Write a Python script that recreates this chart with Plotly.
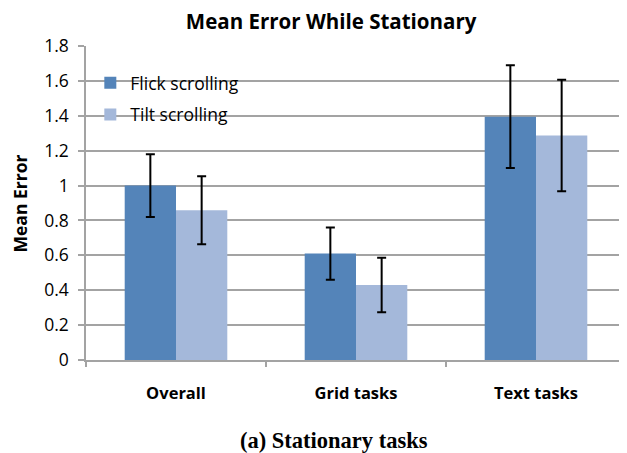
import plotly.graph_objects as go

categories = ["Overall", "Grid tasks", "Text tasks"]
flick = [1.00, 0.61, 1.395]
flick_err = [0.18, 0.15, 0.295]
tilt = [0.858, 0.43, 1.287]
tilt_err = [0.195, 0.156, 0.32]
yticks = [0, 0.2, 0.4, 0.6, 0.8, 1, 1.2, 1.4, 1.6, 1.8]
ytick_labels = ["0", "0.2", "0.4", "0.6", "0.8", "1", "1.2", "1.4", "1.6", "1.8"]

FONT = "Open Sans"
GRID = "#A3A3A3"

fig = go.Figure()
fig.add_trace(go.Bar(
    name="Flick scrolling", x=categories, y=flick,
    marker=dict(color="#5484B9", line=dict(width=0)),
    error_y=dict(type="data", array=flick_err, color="black", thickness=2, width=4.5),
    legendgroup="a",
))
fig.add_trace(go.Bar(
    name="Tilt scrolling", x=categories, y=tilt,
    marker=dict(color="#A4B8DA", line=dict(width=0)),
    error_y=dict(type="data", array=tilt_err, color="black", thickness=2, width=4.5),
    legendgroup="b",
))

# page body has an 8px margin, so the figure is sized/offset to compensate
fig.update_layout(
    width=619, height=445,
    margin=dict(l=78, r=1, t=38, b=93, autoexpand=False),
    paper_bgcolor="white", plot_bgcolor="white",
    barmode="group", bargap=0.43, bargroupgap=0,
    font=dict(family=FONT, color="black"),
    title=dict(text="<b>Mean Error While Stationary</b>", x=0.522, xanchor="center",
               y=0.968, yanchor="middle", font=dict(size=20.5, family=FONT)),
    showlegend=True,
    legend=dict(x=0.008, y=0.94, xanchor="left", yanchor="top",
                bgcolor="rgba(0,0,0,0)", font=dict(size=17.5, family=FONT),
                tracegroupgap=6, traceorder="grouped", itemwidth=30),
    xaxis=dict(
        categoryorder="array", categoryarray=categories,
        tickvals=categories, ticktext=["<b>" + c + "</b>" for c in categories],
        showline=True, linecolor=GRID, linewidth=1.5,
        ticks="outside", tickson="boundaries", ticklen=5, tickcolor=GRID, tickwidth=1.5,
        tickfont=dict(size=16.5, family=FONT), ticklabelstandoff=17,
        showgrid=False, automargin=False,
    ),
    yaxis=dict(
        range=[0, 1.8], tickvals=yticks, ticktext=ytick_labels,
        showline=True, linecolor=GRID, linewidth=1.5,
        ticks="outside", ticklen=6, tickcolor=GRID, tickwidth=1.5,
        showgrid=True, gridcolor=GRID, gridwidth=1.5,
        tickfont=dict(size=17.5, family=FONT), ticklabelstandoff=6,
        zeroline=False, automargin=False,
    ),
)

fig.add_annotation(text="<b>Mean Error</b>", xref="paper", yref="paper",
                   x=-0.1213, y=0.5, xanchor="center", yanchor="middle",
                   textangle=-90, showarrow=False, font=dict(size=17.5, family=FONT))
fig.add_annotation(text="<b>(a) Stationary tasks</b>", xref="paper", yref="paper",
                   x=0.459, y=-0.256, xanchor="center", yanchor="middle",
                   showarrow=False, font=dict(size=22.5, family="Liberation Serif"))

fig.write_html("out.html")
